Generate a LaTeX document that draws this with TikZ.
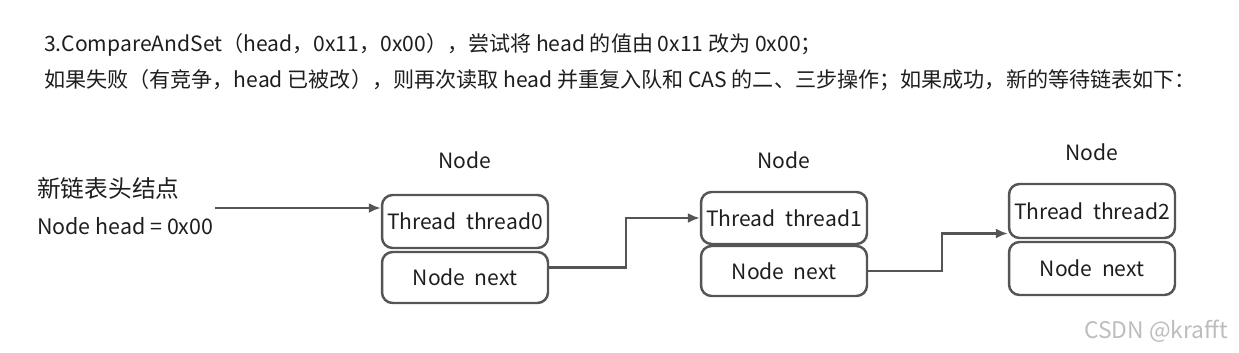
\documentclass[tikz,border=0pt]{standalone}
\usepackage{fontspec}
\setmainfont{Noto Sans CJK SC}
\usepackage{tikz}
\usetikzlibrary{arrows.meta,positioning,calc}
\definecolor{edge}{HTML}{555555}
\definecolor{ink}{HTML}{1E1E1E}
\definecolor{mark}{HTML}{BDBDBD}

\begin{document}
\begin{tikzpicture}[
  x=0.02cm, y=-0.02cm,
  font=\fontsize{12}{14}\selectfont,
  every node/.style={text=ink},
  field/.style={rounded corners=6pt,draw=edge,line width=1.4pt,
              inner sep=0pt,minimum width=3.32cm},
  link/.style={-{Latex[length=2.4mm,width=2mm]},line width=1.4pt,draw=edge}
]
\useasboundingbox (0,0) rectangle (1239,352);

% Heading lines
\node[anchor=west] (line1) at (38,45)
  {3.CompareAndSet（head，0x11，0x00），尝试将 head 的值由 0x11 改为 0x00；};
\node[anchor=west] (line2) at (38,80)
  {如果失败（有竞争，head 已被改），则再次读取 head 并重复入队和 CAS 的二、三步操作；如果成功，新的等待链表如下：};

% Head pointer
\node[anchor=west,font=\fontsize{13.5}{15}\selectfont] (hname) at (31,188) {新链表头结点};
\node[anchor=west,font=\fontsize{12.2}{14}\selectfont] (hval)  at (31,226) {Node head = 0x00};

% Node 0
\node (cap0) at (465,160) {Node};
\node[field,minimum height=1.06cm] (t0) at (465,221.5) {Thread\ \ thread0};
\node[field,minimum height=1.02cm] (n0) at (465,277.5) {Node\ \ next};

% Node 1
\node (cap1) at (784,160) {Node};
\node[field,minimum height=1.04cm] (t1) at (784,218) {Thread\ \ thread1};
\node[field,minimum height=1.00cm] (n1) at (784,271) {Node\ \ next};

% Node 2
\node (cap2) at (1092,152) {Node};
\node[field,minimum height=1.08cm] (t2) at (1092,211) {Thread\ \ thread2};
\node[field,minimum height=1.06cm] (n2) at (1092,268.5) {Node\ \ next};

% Links
\coordinate (hout) at (215,208);
\draw[link] (hout) -- (hout -| t0.west);
\draw[link] ([yshift=0.2cm]n0.east) -- ++(77,0) |- (t1.west);
\draw[link] (n1.east) -- ++(74,0) |- ([yshift=-0.45cm]t2.west);

% Watermark
\node[text=mark,anchor=east,font=\fontsize{13}{15}\selectfont] (wm) at (1234,331) {CSDN @krafft};
\end{tikzpicture}
\end{document}
